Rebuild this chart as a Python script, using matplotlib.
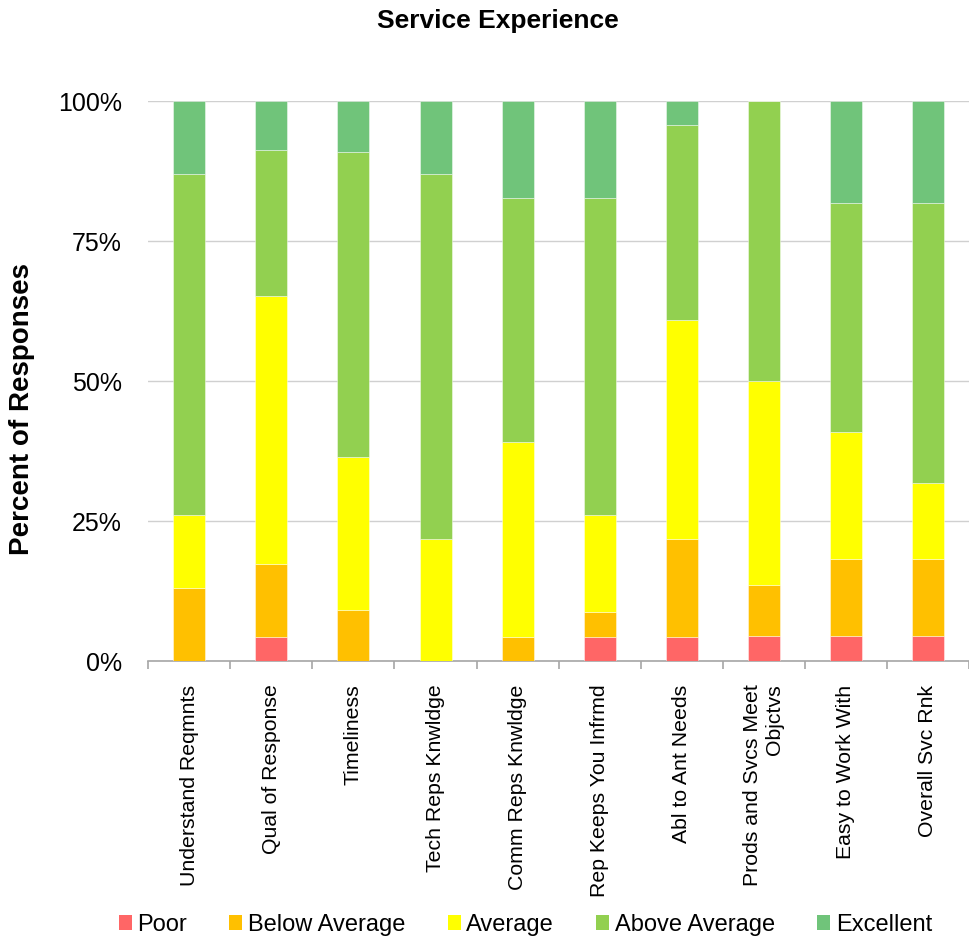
import matplotlib
matplotlib.use("Agg")
import matplotlib.pyplot as plt
import numpy as np
from matplotlib.patches import Patch

plt.rcParams['font.family'] = ['Liberation Sans', 'DejaVu Sans']

categories = ["Understand Reqmnts", "Qual of Response", "Timeliness", "Tech Reps Knwldge",
              "Comm Reps Knwldge", "Rep Keeps You Infrmd", "Abl to Ant Needs",
              "Prods and Svcs Meet\nObjctvs", "Easy to Work With", "Overall Svc Rnk"]
series_names = ["Poor", "Below Average", "Average", "Above Average", "Excellent"]
poor      = [0.0, 4.35, 0.0, 0.0, 0.0, 4.35, 4.35, 4.55, 4.55, 4.55]
below_avg = [13.04, 13.04, 9.09, 0.0, 4.35, 4.35, 17.39, 9.09, 13.64, 13.64]
average   = [13.04, 47.83, 27.27, 21.74, 34.78, 17.39, 39.13, 36.36, 22.73, 13.64]
above_avg = [60.87, 26.09, 54.55, 65.22, 43.48, 56.52, 34.78, 50.0, 40.91, 50.0]
excellent = [13.04, 8.70, 9.09, 13.04, 17.39, 17.39, 4.35, 0.0, 18.18, 18.18]
colors = ["#FF6666", "#FFC000", "#FFFF00", "#92D050", "#70C47A"]
yticks = [0, 25, 50, 75, 100]
ytick_labels = ["0%", "25%", "50%", "75%", "100%"]

fig = plt.figure(figsize=(9.69, 9.38), dpi=100)
ax = fig.add_axes([0.153, 0.2953, 0.847, 0.597])

x = np.arange(len(categories))
bottom = np.zeros(len(categories))
for vals, col in zip([poor, below_avg, average, above_avg, excellent], colors):
    ax.bar(x, vals, width=0.39, bottom=bottom, color=col, edgecolor=(1, 1, 1, 0.5),
           linewidth=0.6, zorder=3)
    bottom += np.array(vals)

ax.set_xlim(-0.5, len(categories) - 0.5)
ax.set_ylim(0, 100)
ax.set_yticks(yticks)
ax.set_yticklabels(ytick_labels, fontsize=18)
ax.tick_params(axis='y', length=0, pad=19)
ax.yaxis.grid(True, color="#D0D0D0", linewidth=1, zorder=0)
ax.set_axisbelow(True)

ax.set_xticks(x)
ax.set_xticklabels(categories, rotation=90, fontsize=15.3, ha='center', va='top',
                   multialignment='right')
ax.tick_params(axis='x', which='major', length=0, pad=17)
ax.set_xticks(np.arange(-0.5, len(categories), 1), minor=True)
ax.tick_params(axis='x', which='minor', length=6, color="#A6A6A6", width=1.2, direction='out')

for s in ['left', 'right', 'top']:
    ax.spines[s].set_visible(False)
ax.spines['bottom'].set_color("#A6A6A6")
ax.spines['bottom'].set_linewidth(1.2)

fig.text(0.5135, 0.978, "Service Experience", ha='center', va='center', fontsize=19, fontweight='bold')
fig.text(0.023, 0.564, "Percent of Responses", rotation=90, ha='center', va='center',
         fontsize=20, fontweight='bold')

handles = [Patch(facecolor=c, edgecolor='none') for c in colors]
fig.legend(handles, series_names, loc='center', bbox_to_anchor=(0.5423, 0.0139), ncol=5,
           frameon=False, fontsize=17, handlelength=0.55, handleheight=0.55,
           handletextpad=0.25, columnspacing=1.78, borderpad=0.1)

fig.savefig("out.png", dpi=100)
